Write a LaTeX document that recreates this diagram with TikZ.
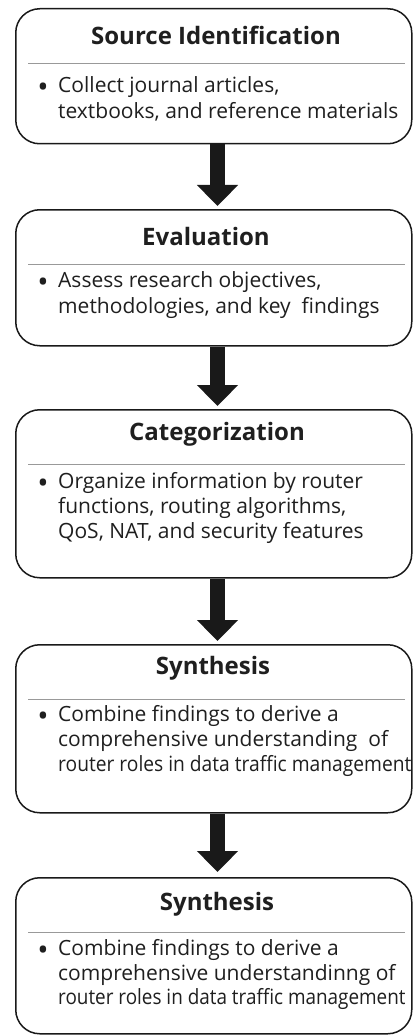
\documentclass[tikz,border=0pt]{standalone}
\usepackage{fontspec}
\setmainfont{Open Sans}
\usetikzlibrary{arrows.meta}
\begin{document}
\begin{tikzpicture}[x=1pt,y=-1pt,
  stage/.style={draw=black!90, line width=1.5pt, rounded corners=24pt,
    minimum width=396pt, anchor=north west, inner sep=0pt, fill=white},
  sepline/.style={draw=black!40, line width=0.9pt},
  title/.style={font=\fontsize{24}{28}\selectfont\bfseries, text=black!88, inner sep=0pt},
  body/.style={font=\fontsize{21}{24}\selectfont, text=black!88, inner sep=0pt, anchor=mid west},
  bul/.style={font=\fontsize{30}{30}\selectfont, text=black!88, inner sep=0pt, anchor=center},
  bigarrow/.style={line width=15pt, draw=black!90, -{Triangle[width=40pt,length=21pt]}}
]
\useasboundingbox (0,0) rectangle (412,1035);
\coordinate (ax) at (217.5,0);

% Box 1
\node[stage, minimum height=135pt] (b1) at (15,8) {};
\node[title] (t1) at (216,35) {Source Identification};
\draw[sepline] (28,63) -- (405,63);
\node[bul] (u1) at (43,90) {\textbullet};
\node[body] (l11) at (58,90) {Collect journal articles,};
\node[body] (l12) at (58,116) {textbooks, and reference materials};

% Box 2
\node[stage, minimum height=136pt] (b2) at (15,209) {};
\node[title] (t2) at (206,236) {Evaluation};
\draw[sepline] (28,264) -- (405,264);
\node[bul] (u2) at (43,285) {\textbullet};
\node[body] (l21) at (58,285) {Assess research objectives,};
\node[body] (l22) at (58,311) {methodologies, and key\ \ findings};

% Box 3
\node[stage, minimum height=168pt] (b3) at (15,409) {};
\node[title] (t3) at (217,434) {Categorization};
\draw[sepline] (28,464) -- (405,464);
\node[bul] (u3) at (43,486) {\textbullet};
\node[body] (l31) at (58,486) {Organize information by router};
\node[body] (l32) at (58,511) {functions, routing algorithms,};
\node[body] (l33) at (58,536) {QoS, NAT, and security features};

% Box 4
\node[stage, minimum height=168pt] (b4) at (15,644) {};
\node[title] (t4) at (213,668) {Synthesis};
\draw[sepline] (28,699) -- (405,699);
\node[bul] (u4) at (43,719) {\textbullet};
\node[body] (l41) at (58,719) {Combine findings to derive a};
\node[body] (l42) at (58,744) {comprehensive understanding\ \ of};
\node[body] (l43) at (58,769) {\scalebox{0.915}[1]{router roles in data traffic management}};

% Box 5
\node[stage, minimum height=156pt] (b5) at (15,877) {};
\node[title] (t5) at (217,904) {Synthesis};
\draw[sepline] (28,932) -- (405,932);
\node[bul] (u5) at (43,953) {\textbullet};
\node[body] (l51) at (58,953) {Combine findings to derive a};
\node[body] (l52) at (58,978) {comprehensive understandinng of};
\node[body] (l53) at (58,1002) {\scalebox{0.9}[1]{router roles in data traffic management}};

% Arrows
\draw[bigarrow] (b1.south -| ax) -- ([yshift=3pt]b2.north -| ax);
\draw[bigarrow] (b2.south -| ax) -- ([yshift=3pt]b3.north -| ax);
\draw[bigarrow] (b3.south -| ax) -- ([yshift=3pt]b4.north -| ax);
\draw[bigarrow] (b4.south -| ax) -- ([yshift=5pt]b5.north -| ax);
\end{tikzpicture}
\end{document}
